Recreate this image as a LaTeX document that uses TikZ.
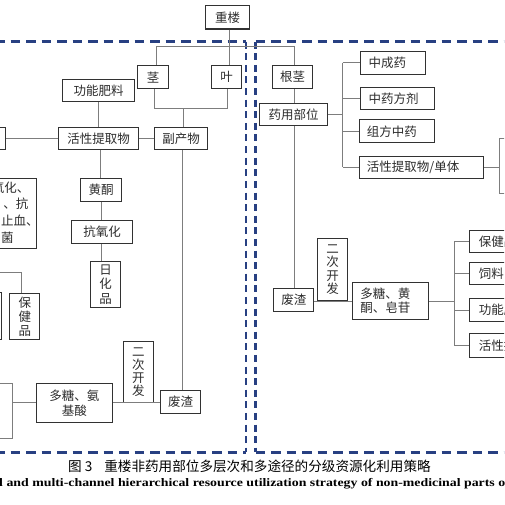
\documentclass[tikz,border=0pt]{standalone}
\usepackage{fontspec}
\setmainfont{Liberation Serif}
\newfontfamily\cjk{Noto Sans CJK SC}
\definecolor{dashblue}{RGB}{40,64,130}
\definecolor{boxc}{RGB}{50,50,50}
\definecolor{linec}{RGB}{125,125,125}
\definecolor{txtc}{RGB}{45,45,45}
\newcommand\drawbox[7][]{%
  \pgfmathsetmacro\bxw{#5-#3}%
  \pgfmathsetmacro\bxh{#6-#4}%
  \node[boxst,anchor=north west,minimum width=\bxw pt,minimum height=\bxh pt,#1] (#2) at (#3,#4) {#7};}
\tikzset{
 boxst/.style={draw=boxc, line width=1.1pt, fill=white, inner sep=0pt, text=txtc, font=\cjk\fontsize{12.5}{14}\selectfont},
 thinbox/.style={draw=linec, line width=0.8pt},
 conn/.style={draw=linec, line width=0.8pt},
 vt/.style={align=center, font=\cjk\fontsize{12.5}{#1}\selectfont},
 txt/.style={inner sep=0pt, text=txtc, font=\cjk\fontsize{12.5}{14}\selectfont},
 hdash/.style={draw=dashblue, line width=2.6pt, dash pattern=on 9.5pt off 6pt},
 vdash/.style={draw=dashblue, line width=2.6pt, dash pattern=on 7pt off 4.6pt},
}
\begin{document}
\begin{tikzpicture}[x=1pt,y=-1pt]
\useasboundingbox (0,0) rectangle (504,505);
\clip (0,0) rectangle (504,505);
\fill[white] (0,0) rectangle (504,505);
% dashed regions
\draw[hdash] (-5,41.7) -- (245.8,41.7);
\draw[hdash] (-5,452.3) -- (245.8,452.3);
\draw[vdash] (245.8,41.7) -- (245.8,452.3);
\draw[hdash] (255.5,41.7) -- (515,41.7);
\draw[hdash] (255.5,452.3) -- (515,452.3);
\draw[vdash] (255.5,41.7) -- (255.5,452.3);
% boxes
\drawbox{zl}{205}{5}{249.3}{28.5}{重楼}
\drawbox{jing}{137.3}{65}{167.7}{88.3}{茎}
\drawbox{ye}{211}{65}{241}{88.3}{叶}
\drawbox{gj}{272}{65}{312}{88.3}{根茎}
\drawbox{gnfl}{62}{79}{134}{101}{功能肥料}
\drawbox{hx}{58}{127}{138}{149}{活性提取物}
\drawbox{fcw}{154}{127}{207}{149}{副产物}
\drawbox{lb1}{-20}{127}{4.7}{149}{}
\drawbox{hh}{80}{178}{121}{201}{黄酮}
\drawbox{kyh}{71}{220}{132}{243}{抗氧化}
\drawbox[vt=14.5]{rhp}{90}{261}{120}{307}{日\\化\\品}
\drawbox{lb2}{-40}{178}{36}{248}{}
\node[txt,anchor=east] (lt1) at (29.5,187.5) {氧化、};
\node[txt,anchor=east] (lt2) at (28.5,204) {、抗};
\node[txt,anchor=west] (lt3) at (1,221) {止血、};
\node[txt,anchor=west] (lt4) at (1,237.5) {菌};
\drawbox[vt=14]{bjp}{9.3}{292.7}{39.3}{339}{保\\健\\品}
\drawbox{lb3}{-30}{292}{1}{338.5}{}
\drawbox[vt=13]{ecf1}{122.7}{340.7}{152.7}{401.7}{二\\次\\开\\发}
\drawbox{fz1}{160}{390}{200}{413}{废渣}
\drawbox[vt=15]{dt1}{35.7}{382.7}{111.7}{421.7}{多糖、氨\\基酸}
\drawbox[thinbox]{lb4}{-30}{383.3}{12.3}{438.3}{}
\drawbox{yybw}{259.3}{103}{326.7}{125.3}{药用部位}
\drawbox[text width=49pt,align=left]{zcy}{360}{51}{425}{73.7}{中成药}
\drawbox[text width=58.3pt,align=left]{zyfj}{360}{86.7}{434.3}{109}{中药方剂}
\drawbox[text width=60.7pt,align=left]{zfzy}{359.3}{119.3}{434}{142.3}{组方中药}
\drawbox[text width=110pt,align=left]{hxdt}{359.3}{155.7}{483.3}{177.7}{活性提取物/单体}
\drawbox[thinbox]{rb1}{499.3}{138.3}{560}{192.7}{}
\drawbox{fz2}{273.3}{288.3}{313.3}{310.7}{废渣}
\drawbox[text width=60pt,align=left]{dt2}{351.7}{281.7}{427.7}{319.3}{多糖、黄\\酮、皂苷}
\drawbox[text width=72.7pt,align=left]{bj2}{469.3}{230}{560}{252.3}{保健品}
\drawbox[text width=72.7pt,align=left]{sl}{469.3}{261.7}{560}{284}{饲料}
\drawbox[text width=72.7pt,align=left]{gn}{469.3}{298.3}{560}{321}{功能肥料}
\drawbox[text width=72.7pt,align=left]{hx2}{469.3}{333.3}{560}{356.7}{活性提取物}
% coordinates
\coordinate (xye) at (229.3,0);
\coordinate (j1) at (156,46.7);
\coordinate (g1) at (294.5,46.7);
\coordinate (jb) at (154.3,108.3);
\coordinate (yb) at (227.7,108.3);
\coordinate (fb) at (183.3,108.3);
\coordinate (xgf) at (98.7,0);
\coordinate (xhh) at (100.7,0);
\coordinate (xky) at (101.3,0);
\coordinate (xfz) at (182.7,0);
\coordinate (b0) at (-5,272.7);
\coordinate (b1) at (21.7,272.7);
\coordinate (bus1) at (342.7,0);
\coordinate (bus3) at (454.3,0);
\coordinate (y301) at (0,301);
% connectors
\draw[conn] (zl.south -| xye) -- (ye.north -| xye);
\draw[conn] (jing.north -| j1) -- (j1) -- (g1) -- (gj.north -| g1);
\draw[conn] (jing.south -| jb) -- (jb) -- (yb) -- (ye.south -| yb);
\draw[conn] (fb) -- (fcw.north -| fb);
\draw[conn] (gnfl.south -| xgf) -- (hx.north -| xgf);
\draw[conn] (hx.east) -- (fcw.west);
\draw[conn] (hx.west) -- (lb1.east);
\draw[conn] (hx.south -| xhh) -- (hh.north -| xhh);
\draw[conn] (hh.south -| xky) -- (kyh.north -| xky);
\draw[conn] (kyh.south -| xky) -- (rhp.north -| xky);
\draw[conn] (fcw.south -| xfz) -- (fz1.north -| xfz);
\draw[conn] (b0) -- (b1) -- (bjp.north -| b1);
\draw[conn] (dt1.east) -- (dt1.east -| fz1.west);
\draw[conn] (dt1.west) -- (dt1.west -| lb4.east);
\draw[conn] (gj.south -| g1) -- (yybw.north -| g1);
\draw[conn] (yybw.south -| g1) -- (fz2.north -| g1);
\draw[conn] (yybw.east) -- (yybw.east -| bus1);
\draw[conn] (bus1 |- zcy.west) -- (bus1 |- hxdt.west);
\foreach \n in {zcy,zyfj,zfzy,hxdt} \draw[conn] (bus1 |- \n.west) -- (\n.west);
\draw[conn] (hxdt.east) -- (hxdt.east -| rb1.west);
\draw[conn] (fz2.east |- y301) -- (dt2.west |- y301);
\draw[conn] (dt2.east) -- (dt2.east -| bus3);
\draw[conn] (bus3 |- bj2.west) -- (bus3 |- hx2.west);
\foreach \n in {bj2,sl,gn,hx2} \draw[conn] (bus3 |- \n.west) -- (\n.west);
% box sitting on the waste-residue connector
\drawbox[vt=13.3]{ecf2}{317.3}{238.3}{346.7}{300}{二\\次\\开\\发}
% captions
\node[inner sep=0pt, anchor=west, text=black, font=\cjk\fontsize{13.6}{16}\selectfont] (cap1) at (68,466.7) {图\hspace{3pt}3\hspace{12pt}重楼非药用部位多层次和多途径的分级资源化利用策略};
\node[inner sep=0pt, anchor=west, text=black] (cap2) at (-1,483.3) {\resizebox{506pt}{\height}{\fontsize{11.5}{13}\selectfont\bfseries l and multi-channel hierarchical resource utilization strategy of non-medicinal parts o}};
\end{tikzpicture}
\end{document}
